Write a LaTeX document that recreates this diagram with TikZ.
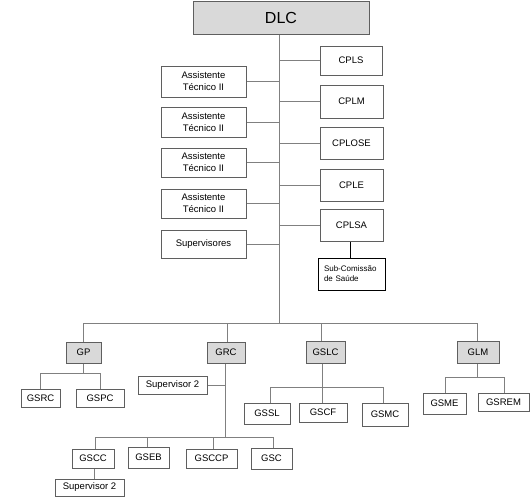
\documentclass[tikz,border=0pt]{standalone}
\usepackage{fontspec}
\setmainfont{Liberation Sans}
\begin{document}
\begin{tikzpicture}[x=1pt,y=-1pt,
  lc/.style={draw={rgb,255:red,128;green,128;blue,128},line width=1pt},
  box/.style={draw={rgb,255:red,95;green,95;blue,95},line width=1pt,fill=white,inner sep=0pt,font=\fontsize{9.5}{12}\selectfont,align=center},
  gbox/.style={box,fill={rgb,255:red,217;green,217;blue,217}},
  sbox/.style={draw=black,line width=1pt,fill=white,inner sep=0pt,font=\fontsize{8}{10}\selectfont,align=left}]
\useasboundingbox (0,0) rectangle (530,496);
% top
\node[gbox,minimum width=176,minimum height=33,font=\fontsize{16}{18}\selectfont] (dlc) at (281,17.5) {DLC};
\coordinate (t) at (279,323);
\draw[lc] (dlc.south -| t) -- (t);
% right column
\node[box,minimum width=62,minimum height=29] (cpls) at (351,60.5) {CPLS};
\node[box,minimum width=63,minimum height=33] (cplm) at (351.5,101.5) {CPLM};
\node[box,minimum width=63,minimum height=32] (cplose) at (351.5,143) {CPLOSE};
\node[box,minimum width=63,minimum height=32] (cple) at (351.5,185) {CPLE};
\node[box,minimum width=63,minimum height=32] (cplsa) at (351.5,225) {CPLSA};
\node[sbox,minimum width=67,minimum height=32,text width=55] (sub) at (351.5,274) {Sub-Comissão\\de Saúde};
\foreach \n in {cpls,cplm,cplose,cple,cplsa} \draw[lc] (\n.west) -- (\n.west -| t);
\draw[black,line width=1pt] (cplsa.south -| 350,0) -- (sub.north -| 350,0);
% left column
\node[box,minimum width=85,minimum height=31] (a1) at (203.5,81.5) {Assistente\\Técnico II};
\node[box,minimum width=85,minimum height=30] (a2) at (203.5,122) {Assistente\\Técnico II};
\node[box,minimum width=85,minimum height=29] (a3) at (203.5,162.5) {Assistente\\Técnico II};
\node[box,minimum width=85,minimum height=29] (a4) at (203.5,203.5) {Assistente\\Técnico II};
\node[box,minimum width=85,minimum height=28] (sup) at (203.5,244) {Supervisores};
\foreach \n in {a1,a2,a3,a4,sup} \draw[lc] (\n.east) -- (\n.east -| t);
% level 2
\coordinate (bl) at (83,323);
\coordinate (br) at (477,323);
\draw[lc] (bl) -- (br);
\node[gbox,minimum width=35,minimum height=21] (gp) at (83.5,352.5) {GP};
\node[gbox,minimum width=38,minimum height=21] (grc) at (226,352.5) {GRC};
\node[gbox,minimum width=39,minimum height=22] (gslc) at (325.5,352) {GSLC};
\node[gbox,minimum width=42,minimum height=22] (glm) at (478,352) {GLM};
\draw[lc] (bl) -- (gp.north -| bl);
\draw[lc] (227,323) -- (grc.north -| 227,0);
\draw[lc] (321,323) -- (gslc.north -| 321,0);
\draw[lc] (br) -- (glm.north -| br);
% GP children
\node[box,minimum width=39,minimum height=18] (gsrc) at (40.5,398) {GSRC};
\node[box,minimum width=48,minimum height=18] (gspc) at (100,398) {GSPC};
\coordinate (gpb) at (83,373);
\draw[lc] (gp.south -| gpb) -- (gpb);
\draw[lc] (gsrc.north) -- (gsrc |- gpb) -- (gspc |- gpb) -- (gspc.north);
% GRC children
\coordinate (grcb) at (225,437);
\draw[lc] (grc.south -| grcb) -- (grcb);
\node[box,minimum width=69,minimum height=18] (sup2) at (172.5,385) {Supervisor 2};
\draw[lc] (sup2.east) -- (sup2.east -| grcb);
\node[box,minimum width=42,minimum height=19] (gscc) at (93,458.5) {GSCC};
\node[box,minimum width=41,minimum height=21] (gseb) at (148.5,457.5) {GSEB};
\node[box,minimum width=51,minimum height=19] (gsccp) at (211.5,458.5) {GSCCP};
\node[box,minimum width=41,minimum height=21] (gsc) at (271.5,458.5) {GSC};
\draw[lc] (95,437) -- (273,437);
\draw[lc] (95,437) -- (gscc.north -| 95,0);
\draw[lc] (147,437) -- (gseb.north -| 147,0);
\draw[lc] (213,437) -- (gsccp.north -| 213,0);
\draw[lc] (273,437) -- (gsc.north -| 273,0);
\node[box,minimum width=69,minimum height=17] (sup3) at (89.5,487.5) {Supervisor 2};
\draw[lc] (gscc.south -| 94,0) -- (sup3.north -| 94,0);
% GSLC children
\coordinate (gslcb) at (322,387);
\draw[lc] (gslc.south -| gslcb) -- (gslcb);
\node[box,minimum width=46,minimum height=21] (gssl) at (267,413.5) {GSSL};
\node[box,minimum width=48,minimum height=19] (gscf) at (323,412.5) {GSCF};
\node[box,minimum width=46,minimum height=23] (gsmc) at (385,414.5) {GSMC};
\draw[lc] (270,387) -- (383,387);
\draw[lc] (270,387) -- (gssl.north -| 270,0);
\draw[lc] (gslcb) -- (gscf.north -| gslcb);
\draw[lc] (383,387) -- (gsmc.north -| 383,0);
% GLM children
\coordinate (glmb) at (477,377);
\draw[lc] (glm.south -| glmb) -- (glmb);
\node[box,minimum width=43,minimum height=21] (gsme) at (444.5,403.5) {GSME};
\node[box,minimum width=51,minimum height=18] (gsrem) at (503.5,402) {GSREM};
\draw[lc] (445,377) -- (504,377);
\draw[lc] (445,377) -- (gsme.north -| 445,0);
\draw[lc] (504,377) -- (gsrem.north -| 504,0);
\end{tikzpicture}
\end{document}
